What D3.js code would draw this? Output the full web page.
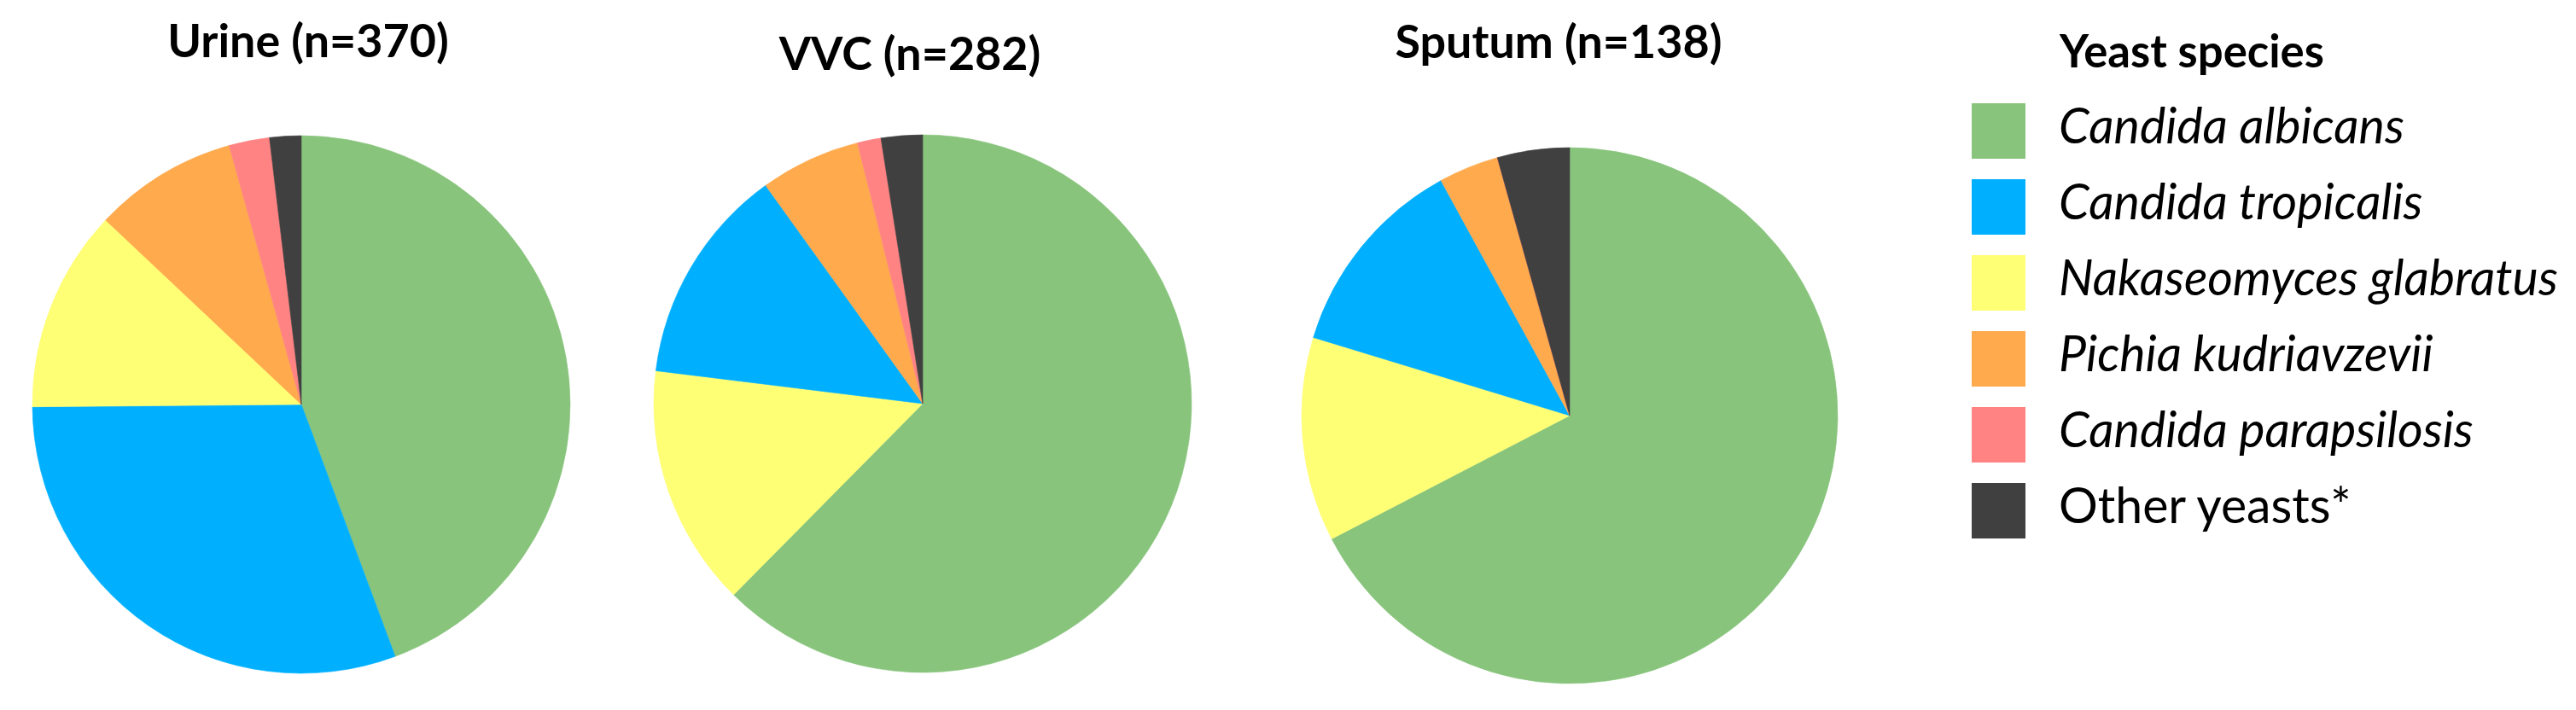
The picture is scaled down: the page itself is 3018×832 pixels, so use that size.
<!DOCTYPE html>
<html>
<head>
<meta charset="utf-8">
<script src="https://cdn.jsdelivr.net/npm/d3@7"></script>
<style>
  html, body { margin: 0; padding: 0; background: #fff; }
  svg { display: block; }
</style>
</head>
<body>
<svg id="chart" width="3018" height="832"></svg>
<script>
// ---------------- DATA ----------------
const species = ["Candida albicans", "Candida tropicalis", "Nakaseomyces glabratus",
                 "Pichia kudriavzevii", "Candida parapsilosis", "Other yeasts*"];
const speciesItalic = [true, true, true, true, true, false];
const speciesColors = ["#88C47C", "#00B0FF", "#FFFF75", "#FFAA4D", "#FF8383", "#404040"];

const sampleTypes = ["Urine", "VVC", "Sputum"];
const sampleN = [370, 282, 138];

// counts in species order
const urineCounts  = [164, 113, 45, 32, 9, 7];
const vvcCounts    = [176, 37, 41, 17, 4, 7];
const sputumCounts = [93, 17, 17, 5, 0, 6];

// order in which slices are drawn clockwise from 12 o'clock (species indices)
const urineOrder  = [0, 1, 2, 3, 4, 5];
const vvcOrder    = [0, 2, 1, 3, 4, 5];
const sputumOrder = [0, 2, 1, 3, 4, 5];

const legendTitle = "Yeast species";

// ---------------- LAYOUT ----------------
const svg = d3.select("#chart");
const FONT = "Lato, 'Open Sans', 'DejaVu Sans', sans-serif";

const pies = [
  { counts: urineCounts,  order: urineOrder,  cx: 353,  cy: 474, r: 315, tx: 361,  ty: 67 },
  { counts: vvcCounts,    order: vvcOrder,    cx: 1081, cy: 473, r: 315, tx: 1066, ty: 82 },
  { counts: sputumCounts, order: sputumOrder, cx: 1839, cy: 487, r: 314, tx: 1826, ty: 68 }
];

const color = d3.scaleOrdinal().domain(species).range(speciesColors);
const pieGen = d3.pie().sort(null).value(d => d.value);

pies.forEach((p, i) => {
  const rows = p.order.map(k => ({ name: species[k], value: p.counts[k] }));
  const arc = d3.arc().innerRadius(0).outerRadius(p.r);
  const g = svg.append("g").attr("transform", `translate(${p.cx},${p.cy})`);
  g.selectAll("path")
    .data(pieGen(rows))
    .join("path")
    .attr("d", arc)
    .attr("fill", d => color(d.data.name))
    .attr("stroke", d => color(d.data.name))
    .attr("stroke-width", 0.6);
});

// fit helper: choose font-size so that a reference text gets the target width
function fitSize(text, weight, style, target) {
  const t = svg.append("text").attr("font-family", FONT).attr("font-size", 50)
    .attr("font-weight", weight).attr("font-style", style).text(text);
  const w = t.node().getComputedTextLength();
  t.remove();
  return 50 * target / w;
}

// titles
const titleSize = fitSize(`${sampleTypes[2]} (n=${sampleN[2]})`, "bold", "normal", 383);
pies.forEach((p, i) => {
  svg.append("text")
    .attr("x", p.tx).attr("y", p.ty)
    .attr("text-anchor", "middle")
    .attr("font-family", FONT).attr("font-weight", "bold")
    .attr("font-size", titleSize)
    .attr("fill", "#000")
    .text(`${sampleTypes[i]} (n=${sampleN[i]})`);
});

// legend
const legX = 2310, legTextX = 2412, sw = 63, legY0 = 121, legStep = 89;
const legTitleSize = fitSize(legendTitle, "bold", "normal", 310);
svg.append("text")
  .attr("x", 2413).attr("y", 79)
  .attr("font-family", FONT).attr("font-weight", "bold")
  .attr("font-size", legTitleSize).attr("fill", "#000")
  .text(legendTitle);

const itemSize = fitSize(species[2], "normal", "italic", 585);
const yLeg = d3.scaleLinear().domain([0, 1]).range([legY0, legY0 + legStep]);
const lg = svg.append("g");
species.forEach((s, i) => {
  lg.append("rect")
    .attr("x", legX).attr("y", yLeg(i))
    .attr("width", sw).attr("height", 65)
    .attr("fill", speciesColors[i]);
  lg.append("text")
    .attr("x", legTextX).attr("y", yLeg(i) + 47)
    .attr("font-family", FONT)
    .attr("font-style", speciesItalic[i] ? "italic" : "normal")
    .attr("font-size", itemSize).attr("fill", "#000")
    .text(s);
});
</script>
</body>
</html>
